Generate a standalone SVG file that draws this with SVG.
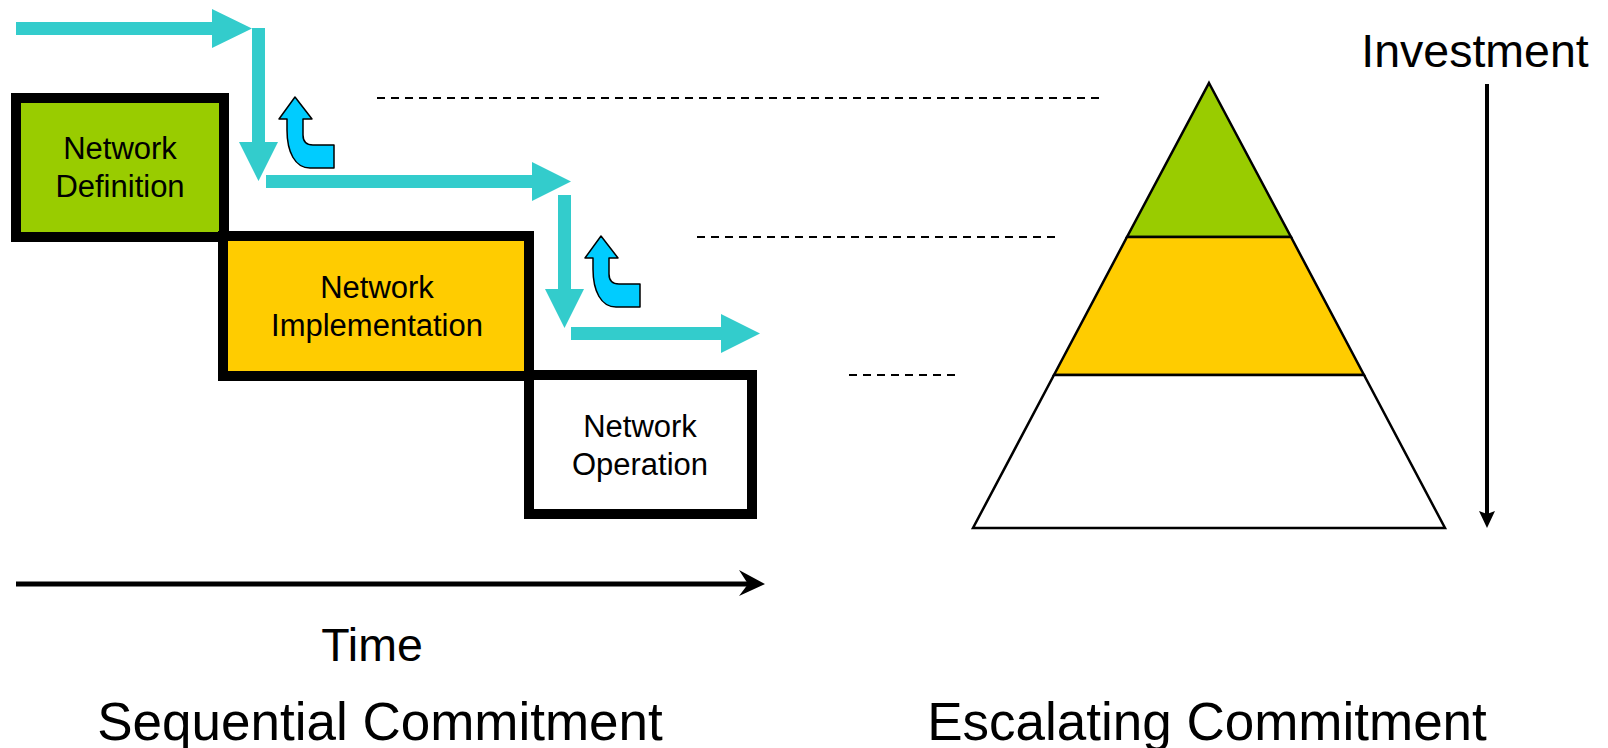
<svg xmlns="http://www.w3.org/2000/svg" width="1608" height="748" viewBox="0 0 1608 748">
<defs>
<style>
.flow{fill:#33CCCC;stroke:none}
.uturn{fill:#00CCFF;stroke:#000;stroke-width:1.5;stroke-linejoin:round}
.box{stroke:#000;stroke-width:10}
.lbl{font-family:"Liberation Sans",Arial,sans-serif;font-size:31px;fill:#000;text-anchor:middle}
.big{font-family:"Liberation Sans",Arial,sans-serif;font-size:46.5px;fill:#000;text-anchor:middle}
.title{font-family:"Liberation Sans",Arial,sans-serif;font-size:53px;fill:#000;text-anchor:middle}
.dash{stroke:#000;stroke-width:2;stroke-dasharray:8 6;fill:none}
.pyr{stroke:#000;stroke-width:2.5;stroke-linejoin:miter}
</style>
<path id="ut" d="M295,97 L312,119 L303,119 L303,135 Q303,145 313,145 L334,145 L334,168 L310,168 C295,168 287,152 287,130 L287,119 L279,119 Z"/>
</defs>
<rect width="1608" height="748" fill="#fff"/>

<g id="node-definition">
<rect class="box" x="16" y="98" width="208" height="139" fill="#99CC00"/>
<text class="lbl" x="120" y="159">Network</text>
<text class="lbl" x="120" y="197">Definition</text>
</g>
<g id="node-implementation">
<rect class="box" x="223" y="236" width="306" height="140" fill="#FFCC00"/>
<text class="lbl" x="377" y="298">Network</text>
<text class="lbl" x="377" y="336">Implementation</text>
</g>
<g id="node-operation">
<rect class="box" x="529" y="375" width="223" height="139" fill="#FFFFFF"/>
<text class="lbl" x="640" y="437">Network</text>
<text class="lbl" x="640" y="475">Operation</text>
</g>

<g id="connectors">
<polygon class="flow" points="16,22 212,22 212,9 252,28.5 212,48 212,35 16,35"/>
<polygon class="flow" points="252,28 265,28 265,142 278,142 258.5,181 239,142 252,142"/>
<polygon class="flow" points="266,175 532,175 532,162 571,181.5 532,201 532,188 266,188"/>
<polygon class="flow" points="558,195 571,195 571,289 584,289 564.5,328 545,289 558,289"/>
<polygon class="flow" points="571,327 721,327 721,314 760,333.5 721,353 721,340 571,340"/>
<use href="#ut" class="uturn"/>
<use href="#ut" class="uturn" transform="translate(306,139)"/>
<line class="dash" x1="377" y1="98" x2="1099" y2="98"/>
<line class="dash" x1="697" y1="237" x2="1055" y2="237"/>
<line class="dash" x1="849" y1="375" x2="955" y2="375"/>
<line x1="16" y1="584" x2="750" y2="584" stroke="#000" stroke-width="5"/>
<polygon points="765,584 739,570 748,584 739,596" fill="#000"/>
<line x1="1487" y1="84" x2="1487" y2="514" stroke="#000" stroke-width="4"/>
<polygon points="1479,511 1487,514 1495,511 1487,528" fill="#000"/>
</g>

<g id="pyramid">
<polygon class="pyr" fill="#99CC00" points="1209,83 1291,237 1127,237"/>
<polygon class="pyr" fill="#FFCC00" points="1127,237 1291,237 1364,375 1054,375"/>
<polygon class="pyr" fill="#FFFFFF" points="1054,375 1364,375 1445,528 973,528"/>
</g>

<text class="big" x="1475" y="67">Investment</text>
<text class="big" x="372" y="661">Time</text>
<text class="title" x="380" y="740">Sequential Commitment</text>
<text class="title" x="1207" y="740">Escalating Commitment</text>
</svg>
